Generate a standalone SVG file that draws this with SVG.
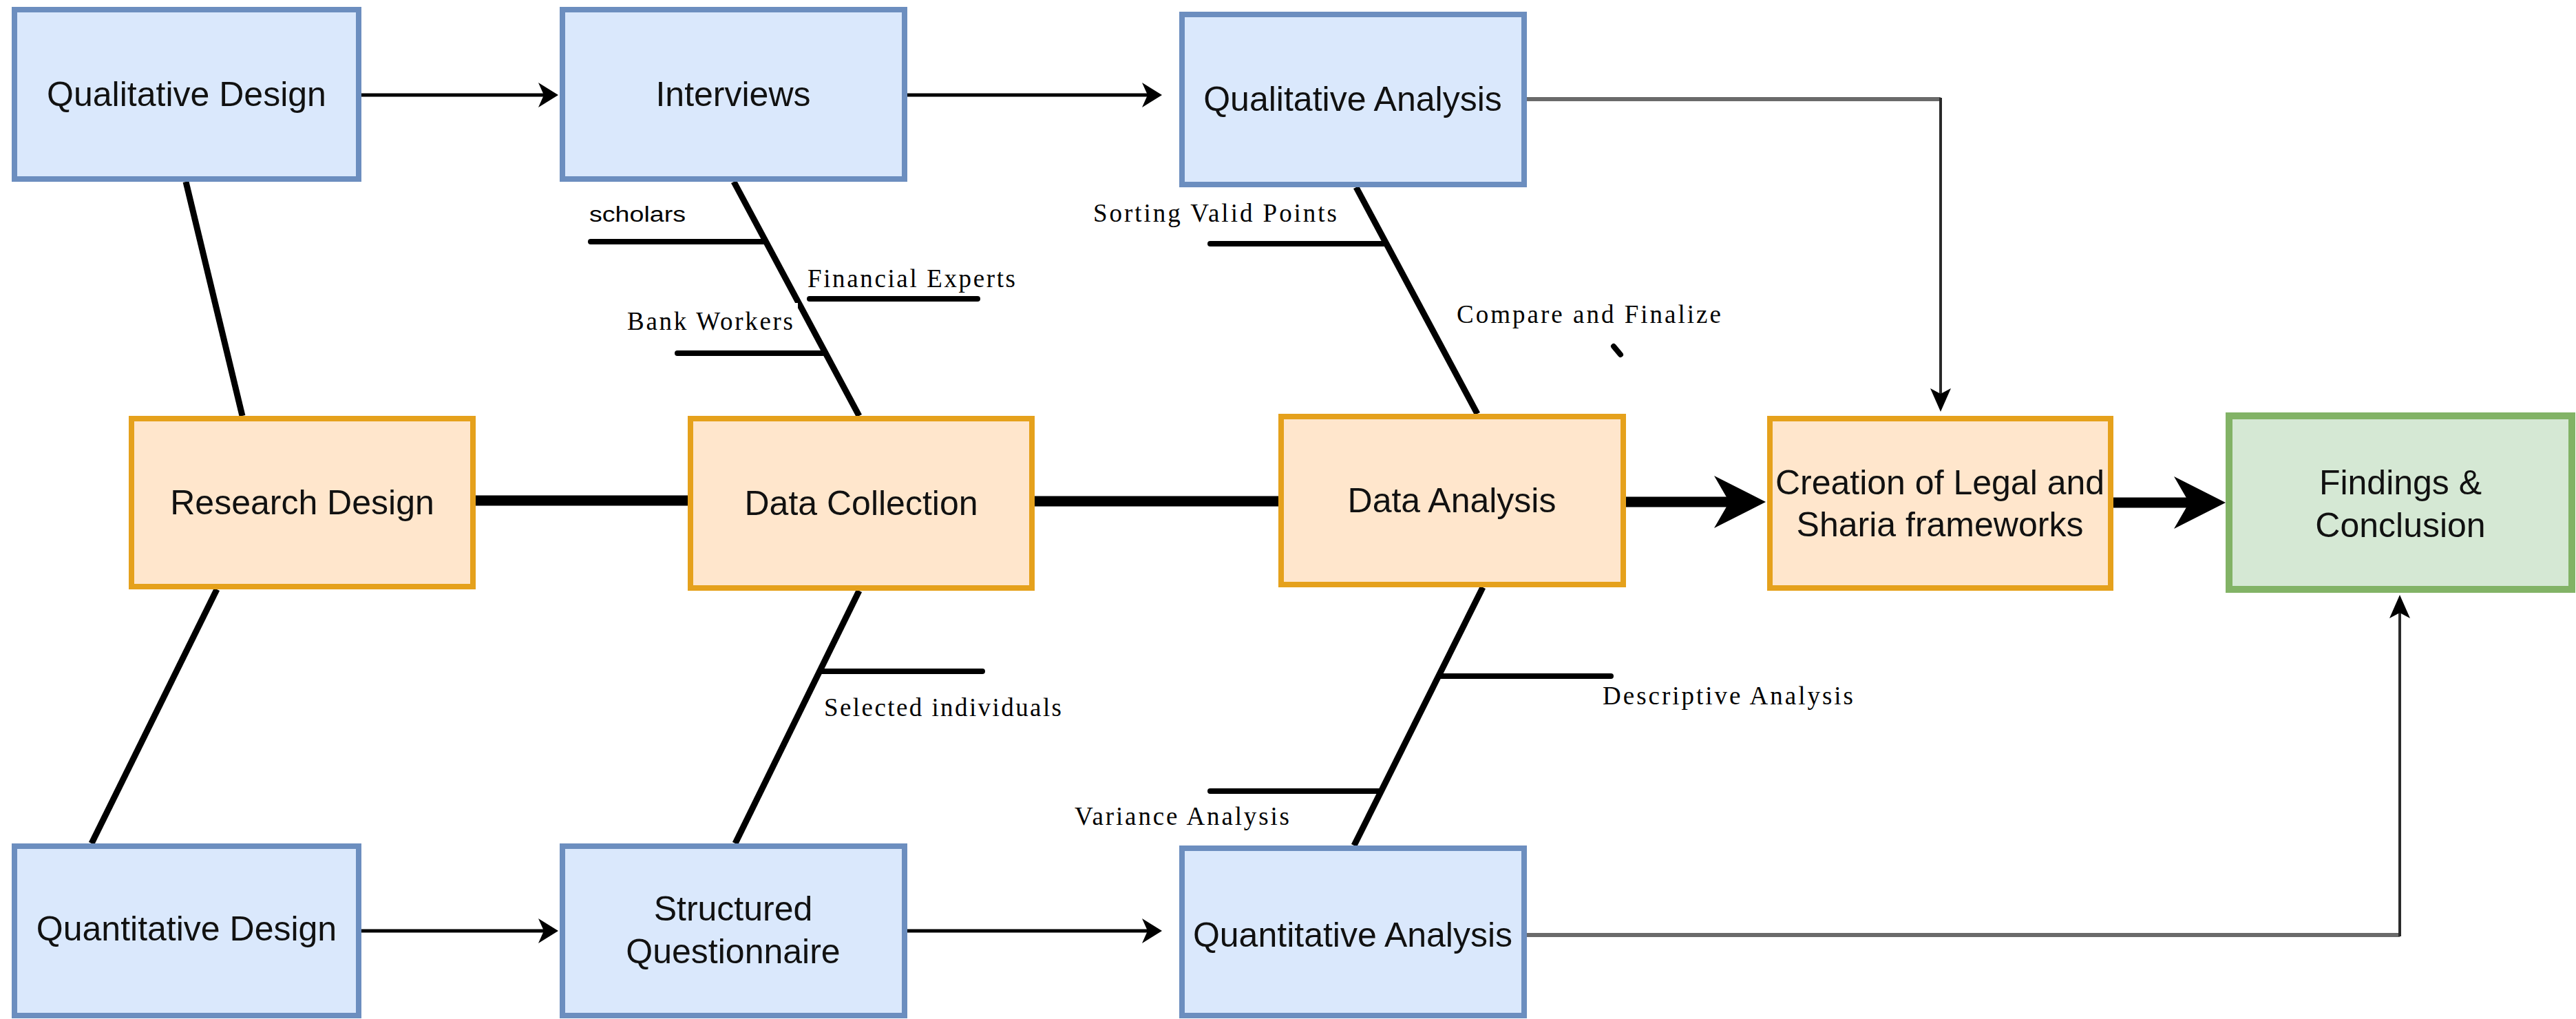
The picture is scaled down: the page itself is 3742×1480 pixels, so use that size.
<svg xmlns="http://www.w3.org/2000/svg" width="3742" height="1480" viewBox="0 0 3742 1480">
  <style>
    .blue rect { fill: #dae8fc; stroke: #6c8ebf; stroke-width: 8; }
    .orange rect { fill: #ffe6cc; stroke: #e5a11c; stroke-width: 8; }
    .green rect { fill: #d5e8d4; stroke: #82b366; stroke-width: 10; }
    .node text { font-family: "Liberation Sans", Arial, sans-serif; font-size: 50px; fill: #111; text-anchor: middle; }
    .bone { stroke: #000; stroke-width: 9; fill: none; }
    .rib { stroke: #000; stroke-width: 8; fill: none; stroke-linecap: round; }
    .spine { stroke: #000; stroke-width: 15; fill: none; }
    .flow { stroke: #000; stroke-width: 5; fill: none; }
    .feed { stroke: #6a6a6a; stroke-width: 6; fill: none; }
    .drop { stroke: #2a2a2a; stroke-width: 4; fill: none; }
    .lbl { font-family: "Liberation Serif", "Times New Roman", serif; font-size: 37px; fill: #000; }
    .lbl-sans { font-family: "Liberation Sans", Arial, sans-serif; font-size: 31px; fill: #000; }
  </style>
  <defs>
    <marker id="head" markerUnits="userSpaceOnUse" markerWidth="40" markerHeight="40" viewBox="-10 -20 40 40" refX="0" refY="0" orient="auto">
      <path d="M-8,-18 L21,0 L-8,18 L0,0 Z" fill="#000"/>
    </marker>
    <marker id="head-sm" markerUnits="userSpaceOnUse" markerWidth="40" markerHeight="40" viewBox="-10 -20 40 40" refX="0" refY="0" orient="auto">
      <path d="M-8,-15 L26,0 L-8,15 L0,0 Z" fill="#000"/>
    </marker>
    <marker id="head-lg" markerUnits="userSpaceOnUse" markerWidth="100" markerHeight="90" viewBox="-25 -45 100 90" refX="0" refY="0" orient="auto">
      <path d="M-22,-38 L53,0 L-22,38 L0,0 Z" fill="#000"/>
    </marker>
  </defs>

  <rect x="0" y="0" width="3742" height="1480" fill="#fff"/>

  <!-- connectors -->
  <g id="connectors">
    <!-- main spine -->
    <line class="spine" x1="691" y1="727" x2="999" y2="727"/>
    <line class="spine" x1="1503" y1="728" x2="1857" y2="728"/>
    <line class="spine" x1="2362" y1="729" x2="2512" y2="729" marker-end="url(#head-lg)"/>
    <line class="spine" x1="3070" y1="730" x2="3180" y2="730" marker-end="url(#head-lg)"/>

    <!-- bones -->
    <line class="bone" x1="270" y1="264" x2="352" y2="604"/>
    <line class="bone" x1="315" y1="856" x2="133" y2="1225"/>
    <line class="bone" x1="1066" y1="264" x2="1248" y2="604"/>
    <line class="bone" x1="1248" y1="858" x2="1068" y2="1225"/>
    <line class="bone" x1="1970" y1="272" x2="2146" y2="601"/>
    <line class="bone" x1="2154" y1="853" x2="1967" y2="1228"/>

    <!-- ribs -->
    <line class="rib" x1="858" y1="351" x2="1110" y2="351"/>
    <line class="rib" x1="1176" y1="434" x2="1420" y2="434"/>
    <line class="rib" x1="984" y1="513" x2="1195" y2="513"/>
    <line class="rib" x1="1758" y1="354" x2="2010" y2="354"/>
    <line class="rib" x1="1194" y1="975" x2="1427" y2="975"/>
    <line class="rib" x1="2092" y1="982" x2="2340" y2="982"/>
    <line class="rib" x1="1758" y1="1149" x2="2004" y2="1149"/>
    <line class="rib" x1="2344" y1="503" x2="2354" y2="515" stroke-width="6"/>

    <!-- flow arrows -->
    <line class="flow" x1="525" y1="138" x2="790" y2="138" marker-end="url(#head)"/>
    <line class="flow" x1="1318" y1="138" x2="1667" y2="138" marker-end="url(#head)"/>
    <line class="flow" x1="525" y1="1352" x2="790" y2="1352" marker-end="url(#head)"/>
    <line class="flow" x1="1318" y1="1352" x2="1667" y2="1352" marker-end="url(#head)"/>

    <!-- Qualitative Analysis to Creation of Legal and Sharia frameworks -->
    <g>
      <polyline class="feed" points="2218,144 2819,144"/>
      <polyline class="drop" points="2819,142 2819,572" marker-end="url(#head-sm)"/>
    </g>
    <!-- Quantitative Analysis to Findings & Conclusion -->
    <g>
      <polyline class="feed" points="2218,1358 3486,1358"/>
      <polyline class="drop" points="3486,1360 3486,890" marker-end="url(#head-sm)"/>
    </g>
  </g>

  <!-- rib labels -->
  <g id="labels">
    <text class="lbl-sans" x="856" y="322" textLength="140" lengthAdjust="spacingAndGlyphs">scholars</text>
    <text class="lbl" x="1173" y="417" textLength="302" lengthAdjust="spacing">Financial Experts</text>
    <rect x="905" y="440" width="254" height="42" fill="#fff"/>
    <text class="lbl" x="911" y="479" textLength="241" lengthAdjust="spacing">Bank Workers</text>
    <text class="lbl" x="1588" y="322" textLength="354" lengthAdjust="spacing">Sorting Valid Points</text>
    <text class="lbl" x="2116" y="469" textLength="384" lengthAdjust="spacing">Compare and Finalize</text>
    <text class="lbl" x="1197" y="1040" textLength="345" lengthAdjust="spacing">Selected individuals</text>
    <text class="lbl" x="2328" y="1023" textLength="364" lengthAdjust="spacing">Descriptive Analysis</text>
    <text class="lbl" x="1561" y="1198" textLength="312" lengthAdjust="spacing">Variance Analysis</text>
  </g>

  <!-- nodes -->
  <g id="qualitative-design" class="node blue">
    <rect x="21" y="14" width="500" height="246"/>
    <text x="271" y="154">Qualitative Design</text>
  </g>
  <g id="interviews" class="node blue">
    <rect x="817" y="14" width="497" height="246"/>
    <text x="1065" y="154">Interviews</text>
  </g>
  <g id="qualitative-analysis" class="node blue">
    <rect x="1717" y="21" width="497" height="247"/>
    <text x="1965" y="161">Qualitative Analysis</text>
  </g>
  <g id="research-design" class="node orange">
    <rect x="191" y="608" width="496" height="244"/>
    <text x="439" y="747">Research Design</text>
  </g>
  <g id="data-collection" class="node orange">
    <rect x="1003" y="608" width="496" height="246"/>
    <text x="1251" y="748">Data Collection</text>
  </g>
  <g id="data-analysis" class="node orange">
    <rect x="1861" y="605" width="497" height="244"/>
    <text x="2109" y="744">Data Analysis</text>
  </g>
  <g id="legal-sharia" class="node orange">
    <rect x="2571" y="608" width="495" height="246"/>
    <text x="2818" y="718">Creation of Legal and</text>
    <text x="2818" y="779">Sharia frameworks</text>
  </g>
  <g id="findings" class="node green">
    <rect x="3238" y="604" width="498" height="252"/>
    <text x="3487" y="718">Findings &amp;</text>
    <text x="3487" y="780">Conclusion</text>
  </g>
  <g id="quantitative-design" class="node blue">
    <rect x="21" y="1229" width="500" height="246"/>
    <text x="271" y="1366">Quantitative Design</text>
  </g>
  <g id="structured-questionnaire" class="node blue">
    <rect x="817" y="1229" width="497" height="246"/>
    <text x="1065" y="1337">Structured</text>
    <text x="1065" y="1399">Questionnaire</text>
  </g>
  <g id="quantitative-analysis" class="node blue">
    <rect x="1717" y="1232" width="497" height="243"/>
    <text x="1965" y="1375">Quantitative Analysis</text>
  </g>
</svg>
